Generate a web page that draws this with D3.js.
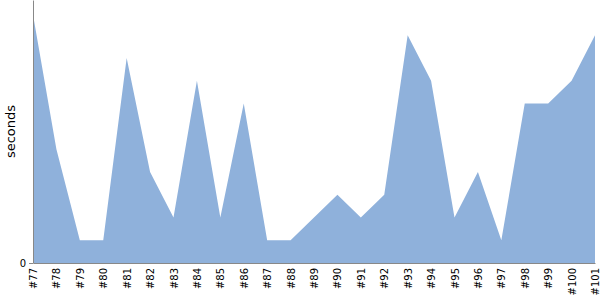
<!DOCTYPE html>
<html>
<head>
<meta charset="utf-8">
<script src="https://cdn.jsdelivr.net/npm/d3@7"></script>
<style>
  body { margin: 0; background: #fff; }
  svg text { font-family: "DejaVu Sans", sans-serif; fill: #000; }
  .axis path, .axis line { stroke: #888; }
</style>
</head>
<body>
<div id="chart"></div>
<script>
const runs = ["#77","#78","#79","#80","#81","#82","#83","#84","#85","#86","#87","#88","#89",
  "#90","#91","#92","#93","#94","#95","#96","#97","#98","#99","#100","#101"];
const seconds = [10.9, 5, 1, 1, 9, 4, 2, 8, 2, 7, 1, 1, 2, 3, 2, 3, 10, 8, 2, 4, 1, 7, 7, 8, 10];
const yTicks = [0];

const margin = { top: 0, right: 5, bottom: 37, left: 33 };
const width = 600 - margin.left - margin.right;
const height = 300 - margin.top - margin.bottom;

const svg = d3.select("#chart").append("svg")
  .attr("width", 600)
  .attr("height", 300)
  .append("g")
  .attr("transform", `translate(${margin.left},${margin.top})`);

const x = d3.scalePoint().domain(runs).range([0, width]);
const y = d3.scaleLinear().domain([0, 11.55]).range([height, 0]);

const data = runs.map((r, i) => ({ run: r, value: seconds[i] }));

// area
const area = d3.area()
  .x(d => x(d.run))
  .y0(y(0))
  .y1(d => y(d.value));

svg.append("path")
  .datum(data)
  .attr("fill", "#8fb1db")
  .attr("d", area);

// axes
const xAxis = svg.append("g")
  .attr("class", "axis")
  .attr("transform", `translate(0,${height})`)
  .call(d3.axisBottom(x).tickSize(0).tickSizeOuter(0));

xAxis.selectAll("text")
  .attr("transform", "rotate(-90)")
  .attr("text-anchor", "end")
  .attr("x", -5)
  .attr("y", 0)
  .attr("dy", "0.35em")
  .style("font-size", "10px");

const yAxis = svg.append("g")
  .attr("class", "axis")
  .call(d3.axisLeft(y).tickValues(yTicks).tickSize(4).tickPadding(3).tickSizeOuter(0));

yAxis.selectAll("text").style("font-size", "10px");

// label
svg.append("text")
  .attr("transform", "rotate(-90)")
  .attr("x", -height / 2)
  .attr("y", -margin.left + 15)
  .attr("text-anchor", "middle")
  .style("font-size", "13px")
  .text("seconds");
</script>
</body>
</html>
